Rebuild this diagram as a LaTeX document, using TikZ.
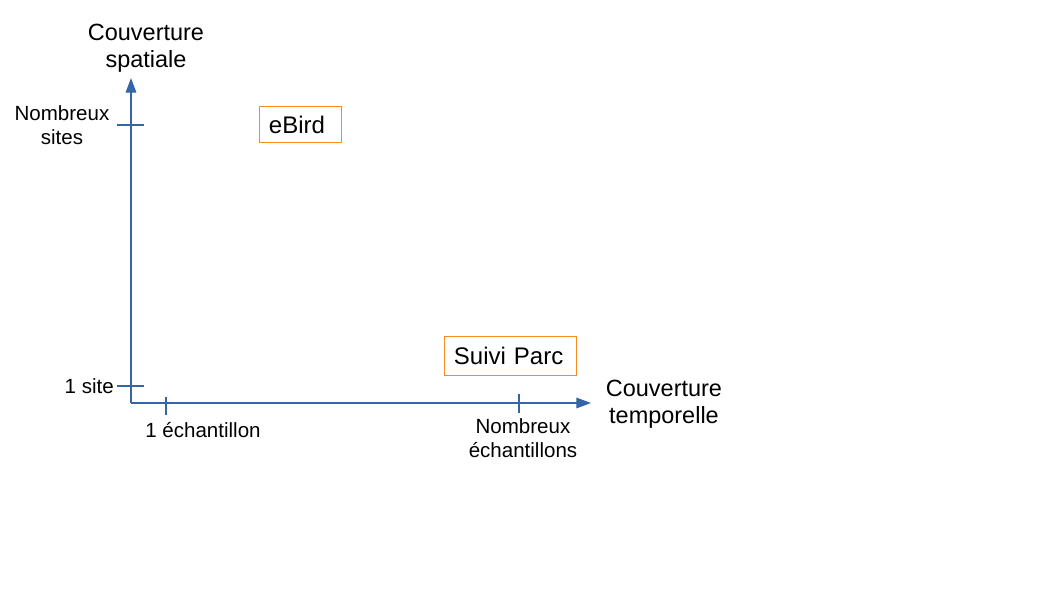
\documentclass[tikz,border=0pt]{standalone}
\usepackage{fontspec}
\setmainfont{Liberation Sans}
\usetikzlibrary{arrows.meta}
\definecolor{axisblue}{RGB}{52,101,164}
\definecolor{boxorange}{RGB}{255,138,30}
\begin{document}
\begin{tikzpicture}[x=0.75pt,y=-0.75pt,
  axis/.style={draw=axisblue,line width=0.9pt},
  arr/.style={-{Triangle[length=11pt,width=8pt]}},
  tick/.style={draw=axisblue,line width=0.9pt},
  title/.style={font=\fontsize{17.6}{20.3}\selectfont,align=center,inner sep=0pt},
  small/.style={font=\fontsize{15.4}{18}\selectfont,align=center,inner sep=0pt},
  item/.style={draw=boxorange,line width=0.7pt,font=\fontsize{18}{21}\selectfont,inner xsep=9.5*0.75pt,inner ysep=0pt,align=left,anchor=north west}]
\useasboundingbox (0,0) rectangle (1058,595);
\coordinate (O) at (131,403);
\coordinate (ytop) at (131,78);
\coordinate (xend) at (591,403);
\coordinate (t1a) at (117,125); \coordinate (t1b) at (144,125);
\coordinate (t2a) at (117,386); \coordinate (t2b) at (144,386);
\coordinate (t3a) at (166,397); \coordinate (t3b) at (166,415);
\coordinate (t4a) at (519,394); \coordinate (t4b) at (519,413);
\draw[axis,arr] (O) -- (ytop);
\draw[axis,arr] (O) -- (xend);
\draw[tick] (t1a) -- (t1b);
\draw[tick] (t2a) -- (t2b);
\draw[tick] (t3a) -- (t3b);
\draw[tick] (t4a) -- (t4b);
\node[title] (ytitle) at (146,48.5) {Couverture\\spatiale};
\node[title] (xtitle) at (664,404.5) {Couverture\\temporelle};
\node[small] (nsites) at (62,125) {Nombreux\\sites};
\node[small,anchor=east] (onesite) at (114,386) {1 site};
\node[small] (oneech) at (203,430) {1 échantillon};
\node[small] (nech) at (523,438) {Nombreux\\échantillons};
\node[item,text width=63*0.75pt,minimum height=36*0.75pt] (ebird) at (259,106) {eBird};
\node[item,text width=113*0.75pt,minimum height=39*0.75pt] (suivi) at (444,336) {Suivi Parc};
\end{tikzpicture}
\end{document}
